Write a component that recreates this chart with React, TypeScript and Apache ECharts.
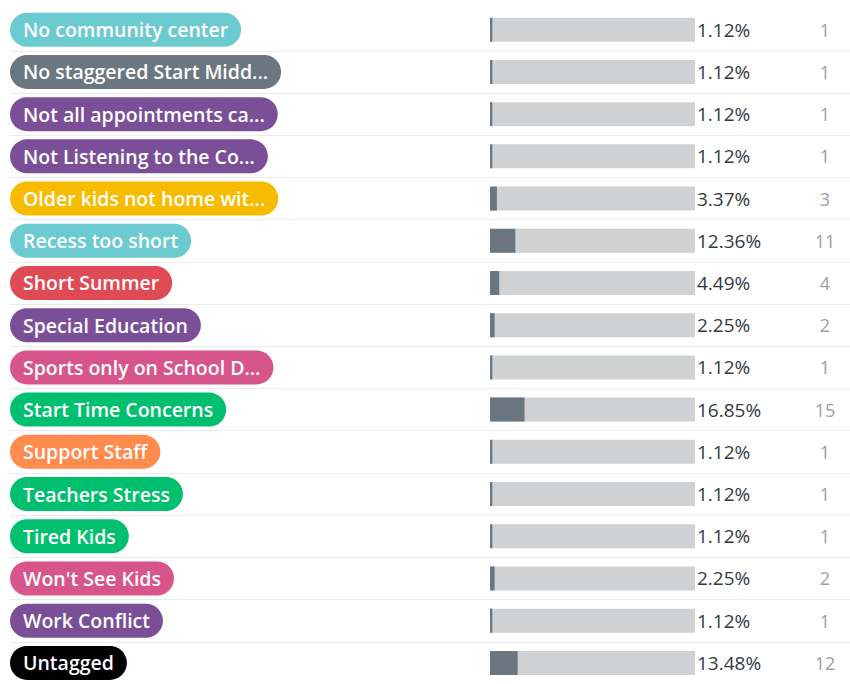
import React, { useEffect, useRef } from "react";
import * as echarts from "echarts";

const categories = [
  "No community center",
  "No staggered Start Midd...",
  "Not all appointments ca...",
  "Not Listening to the Co...",
  "Older kids not home wit...",
  "Recess too short",
  "Short Summer",
  "Special Education",
  "Sports only on School D...",
  "Start Time Concerns",
  "Support Staff",
  "Teachers Stress",
  "Tired Kids",
  "Won't See Kids",
  "Work Conflict",
  "Untagged",
];
const percents = [1.12, 1.12, 1.12, 1.12, 3.37, 12.36, 4.49, 2.25, 1.12, 16.85, 1.12, 1.12, 1.12, 2.25, 1.12, 13.48];
const counts = [1, 1, 1, 1, 3, 11, 4, 2, 1, 15, 1, 1, 1, 2, 1, 12];
const tagColors = [
  "#6ccad1", "#6b7780", "#7b4f97", "#7b4f97", "#f7bb00", "#6ccad1", "#e04a55", "#7b4f97",
  "#d8558b", "#00bf6f", "#ff8b4f", "#00bf6f", "#00bf6f", "#d8558b", "#7b4f97", "#000000",
];

const FONT = "'Open Sans', sans-serif";

export default function App() {
  const ref = useRef<HTMLDivElement>(null);
  useEffect(() => {
    if (!ref.current) return;
    const chart = echarts.init(ref.current, undefined, { renderer: "svg" });
    const rich: Record<string, any> = {};
    tagColors.forEach((c, i) => {
      rich["t" + i] = {
        backgroundColor: c,
        color: "#ffffff",
        borderRadius: 17,
        padding: [7, 13, 7, 13],
        fontSize: 19.5,
        fontWeight: 600,
        lineHeight: 20,
        fontFamily: FONT,
      };
    });
    const top = 8.6;
    const height = 683.7;
    chart.setOption({
      animation: false,
      textStyle: { fontFamily: FONT },
      grid: [
        { left: 10, width: 840, top, height },
        { left: 490, width: 205, top, height },
      ],
      xAxis: [
        { gridIndex: 0, type: "value", show: false, min: 0, max: 100 },
        { gridIndex: 1, type: "value", show: false, min: 0, max: 100 },
      ],
      yAxis: [
        {
          gridIndex: 0,
          type: "category",
          data: categories,
          inverse: true,
          axisLine: { show: false },
          axisTick: { show: false },
          splitLine: {
            show: true,
            lineStyle: { color: "#ebebeb", width: 1 },
            interval: (index: number) => index > 0,
          },
          axisLabel: {
            inside: true,
            margin: 0,
            align: "left",
            formatter: (v: string, i: number) => `{t${i}|${v}}`,
            rich,
          },
        },
        {
          gridIndex: 1,
          type: "category",
          data: percents.map((p) => p.toFixed(2) + "%"),
          inverse: true,
          position: "right",
          axisLine: { show: false },
          axisTick: { show: false },
          axisLabel: { margin: 2, align: "left", color: "#333a40", fontSize: 19, fontFamily: FONT },
        },
        {
          gridIndex: 1,
          type: "category",
          data: counts.map(String),
          inverse: true,
          position: "right",
          offset: 120,
          axisLine: { show: false },
          axisTick: { show: false },
          axisLabel: { margin: 10, align: "center", color: "#9a9fa3", fontSize: 18, fontFamily: FONT },
        },
      ],
      series: [
        {
          type: "bar",
          xAxisIndex: 1,
          yAxisIndex: 1,
          data: percents,
          barWidth: 24,
          itemStyle: { color: "#6b7780" },
          showBackground: true,
          backgroundStyle: { color: "#d0d1d2" },
        },
      ],
    });
    return () => chart.dispose();
  }, []);
  return (
    <div
      ref={ref}
      style={{ position: "fixed", left: 0, top: 0, width: 850, height: 684, background: "#fff" }}
    />
  );
}
